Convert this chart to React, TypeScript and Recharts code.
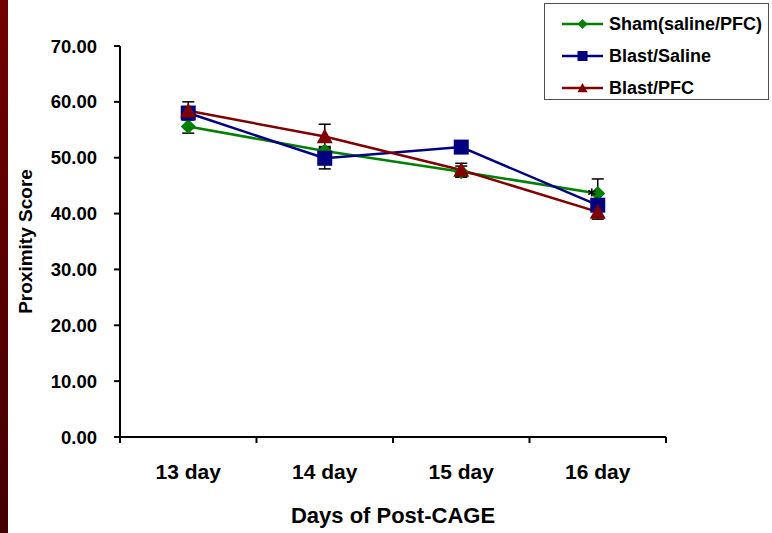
import { LineChart, Line, XAxis, YAxis, ErrorBar, Legend } from 'recharts';

const days = ['13 day', '14 day', '15 day', '16 day'];
const dayIndex = [1, 2, 3, 4];

const shamValues = [55.6, 51.2, 47.5, 43.6];
const shamErrors = [1.2, 0.8, 1.0, 2.6];
const shamMarks = ['', '', '', '*'];

const salineValues = [58.0, 49.9, 51.9, 41.5];
const salineErrors = [1.0, 1.9, 0.6, 1.0];

const pfcValues = [58.4, 53.8, 47.8, 40.3];
const pfcErrors = [1.6, 2.2, 1.2, 1.3];

const yTicks = [0, 10, 20, 30, 40, 50, 60, 70];
const xBoundaries = [0.5, 1.5, 2.5, 3.5, 4.5];

const seriesNames = ['Sham(saline/PFC)', 'Blast/Saline', 'Blast/PFC'];
const seriesColors = ['#008000', '#000080', '#800000'];
const seriesShapes = ['diamond', 'square', 'triangle'];

const data = dayIndex.map((x, i) => ({
  x,
  sham: shamValues[i],
  shamErr: shamErrors[i],
  saline: salineValues[i],
  salineErr: salineErrors[i],
  pfc: pfcValues[i],
  pfcErr: pfcErrors[i],
}));

const W = 772;
const H = 533;
const M = { top: 46, right: 106, bottom: 0, left: 0 };
const Y_AXIS_W = 120;
const BAND = (W - M.left - M.right - Y_AXIS_W) / days.length;
const FONT = '"Liberation Sans", Arial, sans-serif';

function Marker({ cx, cy, shape, color, size }: any) {
  const r = size / 2;
  if (shape === 'diamond') {
    return <polygon points={`${cx},${cy - r} ${cx + r},${cy} ${cx},${cy + r} ${cx - r},${cy}`} fill={color} />;
  }
  if (shape === 'square') {
    return <rect x={cx - r} y={cy - r} width={size} height={size} fill={color} />;
  }
  return <polygon points={`${cx},${cy - r} ${cx + r},${cy + r * 0.85} ${cx - r},${cy + r * 0.85}`} fill={color} />;
}

// small asterisk drawn as strokes, left of the marker
function Star({ x, y }: any) {
  const r = 4;
  return (
    <g stroke="#000" strokeWidth={1.6}>
      <line x1={x} y1={y - r} x2={x} y2={y + r} />
      <line x1={x - r * 0.87} y1={y - r / 2} x2={x + r * 0.87} y2={y + r / 2} />
      <line x1={x - r * 0.87} y1={y + r / 2} x2={x + r * 0.87} y2={y - r / 2} />
    </g>
  );
}

function makeDot(shape: string, color: string, size: number, marks?: string[]) {
  return (props: any) => {
    const mark = marks ? marks[props.index] : '';
    return (
      <g key={`${shape}-${props.index}`}>
        <Marker cx={props.cx} cy={props.cy} shape={shape} color={color} size={size} />
        {mark === '*' ? <Star x={props.cx - 6} y={props.cy - 1} /> : null}
      </g>
    );
  };
}

function DayTick({ x, y, payload }: any) {
  const i = Math.round(payload.value - 0.5);
  if (i >= days.length) return null;
  return (
    <text x={x + BAND / 2} y={y + 34} textAnchor="middle" fontSize={21} fontWeight="bold" fontFamily={FONT} fill="#000">
      {days[i]}
    </text>
  );
}

function LegendBox() {
  return (
    <div
      style={{
        boxSizing: 'border-box',
        width: 225,
        height: 97,
        border: '1.5px solid #505050',
        background: '#fff',
        fontFamily: FONT,
        fontWeight: 'bold',
        fontSize: 18,
        paddingTop: 4,
      }}
    >
      {seriesNames.map((name, i) => (
        <div key={name} style={{ display: 'flex', alignItems: 'center', height: 32 }}>
          <svg width={64} height={20} style={{ flex: 'none' }}>
            <line x1={17} y1={10} x2={58} y2={10} stroke={seriesColors[i]} strokeWidth={2.5} />
            <Marker cx={37.5} cy={10} shape={seriesShapes[i]} color={seriesColors[i]} size={10} />
          </svg>
          <span style={{ color: '#000', whiteSpace: 'nowrap' }}>{name}</span>
        </div>
      ))}
    </div>
  );
}

export default function App() {
  return (
    <div style={{ position: 'fixed', left: 0, top: 0, width: W, height: H, background: '#fff' }}>
      <div
        style={{
          position: 'absolute',
          left: 0,
          top: 0,
          width: 8,
          height: H,
          background: 'linear-gradient(to bottom, #720000, #420000)',
        }}
      />
      <LineChart width={W} height={H} data={data} margin={M}>
        <XAxis
          dataKey="x"
          type="number"
          domain={[0.5, 4.5]}
          ticks={xBoundaries}
          tick={<DayTick />}
          tickLine={{ stroke: '#000', strokeWidth: 2 }}
          tickSize={6}
          axisLine={{ stroke: '#000', strokeWidth: 2 }}
          height={96}
          label={{
            value: 'Days of Post-CAGE',
            position: 'insideBottom',
            offset: 10,
            style: { fontSize: 22, fontWeight: 'bold', fontFamily: FONT, fill: '#000' },
          }}
        />
        <YAxis
          domain={[0, 70]}
          ticks={yTicks}
          width={Y_AXIS_W}
          tickFormatter={(v: number) => v.toFixed(2)}
          tick={{ fontSize: 18.5, fontWeight: 'bold', fontFamily: FONT, fill: '#000' }}
          tickLine={{ stroke: '#000', strokeWidth: 2 }}
          tickSize={6}
          tickMargin={17}
          axisLine={{ stroke: '#000', strokeWidth: 2 }}
          label={{
            value: 'Proximity Score',
            angle: -90,
            position: 'insideLeft',
            offset: 25,
            style: { textAnchor: 'middle', fontSize: 19, fontWeight: 'bold', fontFamily: FONT, fill: '#000' },
          }}
        />
        <Legend
          layout="vertical"
          align="center"
          verticalAlign="middle"
          wrapperStyle={{ top: 3, left: 544, width: 225, height: 97 }}
          content={() => <LegendBox />}
        />
        <Line
          dataKey="sham"
          name={seriesNames[0]}
          stroke={seriesColors[0]}
          strokeWidth={2.5}
          dot={makeDot(seriesShapes[0], seriesColors[0], 15, shamMarks)}
          isAnimationActive={false}
        >
          <ErrorBar dataKey="shamErr" width={6} stroke="#000" strokeWidth={1.5} direction="y" />
        </Line>
        <Line
          dataKey="saline"
          name={seriesNames[1]}
          stroke={seriesColors[1]}
          strokeWidth={2.5}
          dot={makeDot(seriesShapes[1], seriesColors[1], 15)}
          isAnimationActive={false}
        >
          <ErrorBar dataKey="salineErr" width={6} stroke="#000" strokeWidth={1.5} direction="y" />
        </Line>
        <Line
          dataKey="pfc"
          name={seriesNames[2]}
          stroke={seriesColors[2]}
          strokeWidth={2.5}
          dot={makeDot(seriesShapes[2], seriesColors[2], 16)}
          isAnimationActive={false}
        >
          <ErrorBar dataKey="pfcErr" width={6} stroke="#000" strokeWidth={1.5} direction="y" />
        </Line>
      </LineChart>
    </div>
  );
}
